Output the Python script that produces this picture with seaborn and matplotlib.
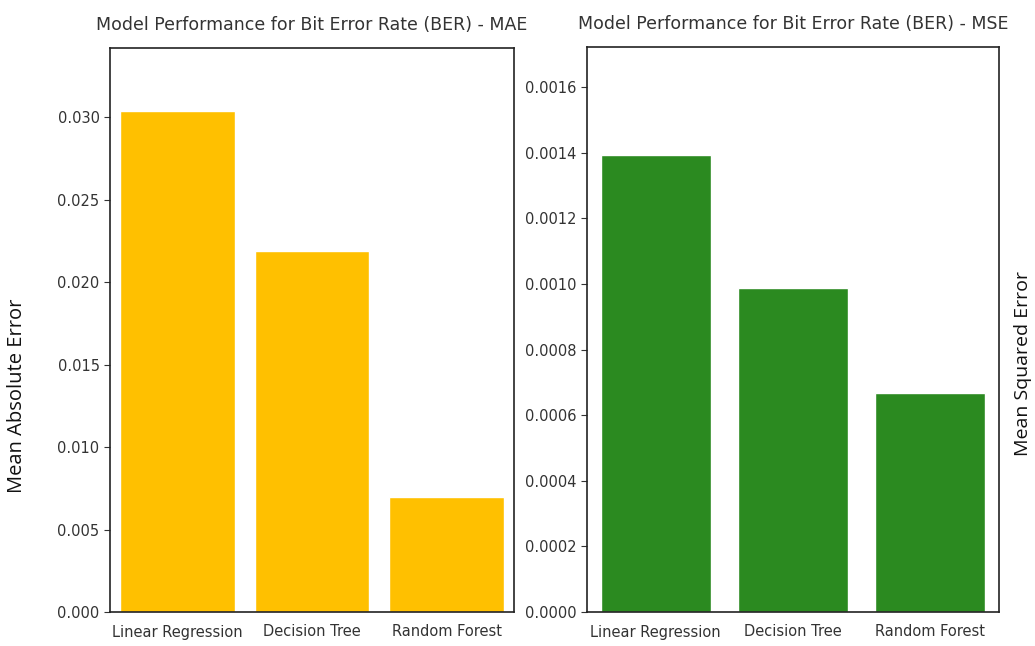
import numpy as np
import pandas as pd
import matplotlib
matplotlib.use('Agg')
import matplotlib.pyplot as plt
import seaborn as sns

# data
models = ['Linear Regression', 'Decision Tree', 'Random Forest']
mae_values = [0.0304, 0.0219, 0.0070]
mse_values = [0.001393, 0.000988, 0.000668]

df = pd.DataFrame({'Model': models, 'MAE': mae_values, 'MSE': mse_values})

sns.set_style('ticks')
plt.rcParams['font.family'] = ['DejaVu Sans']

fig = plt.figure(figsize=(10.35, 6.46), dpi=100)
ax1 = fig.add_axes([110 / 1035, 1 - 612 / 646, 404 / 1035, 564 / 646])
ax2 = fig.add_axes([587 / 1035, 1 - 612 / 646, 412 / 1035, 565 / 646])

sns.barplot(data=df, x='Model', y='MAE', color='#ffc000', saturation=1, width=0.85, ax=ax1)
sns.barplot(data=df, x='Model', y='MSE', color='#2b8a20', saturation=1, width=0.8, ax=ax2)

ax1.set_ylim(0, 0.0342)
ax2.set_ylim(0, 0.001722)
ax1.set_yticks(np.arange(0, 0.0301, 0.005))
ax2.set_yticks(np.arange(0, 0.00161, 0.0002))
ax1.set_yticklabels([f'{v:.3f}' for v in ax1.get_yticks()])
ax2.set_yticklabels([f'{v:.4f}' for v in ax2.get_yticks()])

for ax, name in [(ax1, 'MAE'), (ax2, 'MSE')]:
    ax.set_title(f'Model Performance for Bit Error Rate (BER) - {name}', fontsize=12.5, color='#333333', pad=13)
    ax.set_xlabel('')
    ax.set_ylabel('')
    ax.tick_params(axis='x', length=0, labelsize=10.5, colors='#333333', pad=9)
    ax.tick_params(axis='y', length=4, labelsize=10.5, colors='#333333')
    for s in ax.spines.values():
        s.set_color('#222222')
        s.set_linewidth(1.2)

fig.text(17 / 1035, 1 - 396 / 646, 'Mean Absolute Error', rotation=90, va='center', ha='center',
         fontsize=14.5, color='#111111', family=['Open Sans', 'DejaVu Sans'])
fig.text(1023 / 1035, 1 - 364 / 646, 'Mean Squared Error', rotation=90, va='center', ha='center',
         fontsize=14, color='#111111', family=['Open Sans', 'DejaVu Sans'])

fig.savefig('out.png', dpi=100)
